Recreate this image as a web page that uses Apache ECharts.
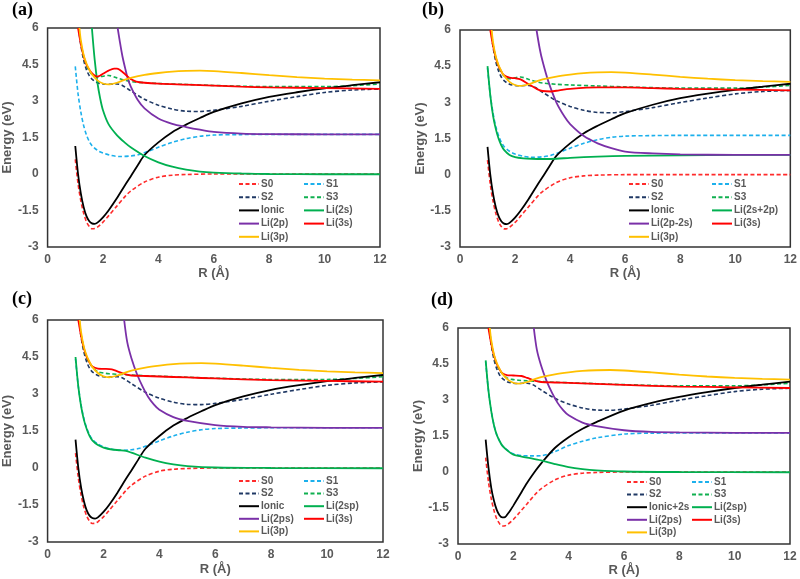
<!DOCTYPE html>
<html><head><meta charset="utf-8">
<script src="https://cdn.jsdelivr.net/npm/echarts@6/dist/echarts.min.js"></script>
<style>html,body{margin:0;padding:0;background:#fff}#c{width:800px;height:579px}</style>
</head><body><div id="c"></div>
<script>
// ---- tick labels ----
const xTicks = [0, 2, 4, 6, 8, 10, 12];
const yTicks = [-3, -1.5, 0, 1.5, 3, 4.5, 6];
const panelTitles = ['(a)', '(b)', '(c)', '(d)'];

// ---- data [R (Å), Energy (eV)] ----
const S0 = [[1.0,0.6],[1.1,-0.4],[1.2,-1.1],[1.3,-1.6],[1.4,-1.95],[1.5,-2.15],[1.6,-2.25],[1.7,-2.24],[1.8,-2.18],[2.0,-1.98],[2.2,-1.72],[2.5,-1.32],[2.8,-0.92],[3.0,-0.7],[3.5,-0.33],[4.0,-0.13],[4.5,-0.05],[5.0,-0.02],[6,0],[8,0],[10,0],[12,0]];
const S1 = [[1.0,4.42],[1.1,3.3],[1.2,2.55],[1.3,2.0],[1.4,1.62],[1.5,1.35],[1.6,1.17],[1.8,0.97],[2.0,0.86],[2.3,0.76],[2.6,0.72],[3.0,0.74],[3.3,0.8],[3.6,0.92],[4.0,1.1],[4.5,1.3],[5.0,1.45],[5.5,1.55],[6,1.6],[7,1.62],[8,1.63],[12,1.63]];
const S1_d = [[1.0,4.6],[1.1,3.4],[1.2,2.55],[1.3,1.95],[1.4,1.55],[1.5,1.3],[1.6,1.1],[1.8,0.9],[2.0,0.76],[2.3,0.68],[2.6,0.67],[3.0,0.68],[3.5,0.85],[4,1.1],[4.5,1.28],[5,1.42],[6,1.58],[7,1.62],[12,1.63]];
const S2 = [[1.12,6],[1.2,5.3],[1.3,4.7],[1.4,4.3],[1.5,4.05],[1.6,3.9],[1.8,3.75],[2.0,3.7],[2.2,3.69],[2.5,3.7],[2.7,3.64],[3.0,3.42],[3.5,3.07],[4.0,2.83],[4.5,2.67],[5.0,2.58],[5.5,2.57],[6,2.62],[7,2.78],[8,2.99],[9,3.18],[10,3.35],[11,3.45],[12,3.49]];
const S3 = [[1.13,6],[1.2,5.4],[1.3,4.8],[1.4,4.45],[1.5,4.25],[1.6,4.1],[1.8,3.98],[2.0,4.02],[2.2,4.05],[2.5,3.95],[2.8,3.85],[3.0,3.8],[3.5,3.75],[4,3.72],[5,3.68],[6,3.64],[8,3.59],[10,3.59],[11,3.63],[12,3.7]];
const S3_cd = [[1.13,6],[1.2,5.4],[1.3,4.8],[1.4,4.45],[1.5,4.25],[1.6,4.1],[1.8,3.9],[2.0,3.85],[2.2,3.82],[2.5,3.8],[3.0,3.77],[3.5,3.74],[4,3.72],[5,3.68],[6,3.64],[8,3.59],[10,3.59],[11,3.63],[12,3.7]];
const Ionic = [[1.0,1.15],[1.1,0.0],[1.2,-0.8],[1.3,-1.35],[1.4,-1.72],[1.5,-1.93],[1.6,-2.03],[1.7,-2.05],[1.8,-2.0],[2.0,-1.78],[2.2,-1.5],[2.5,-1.0],[2.8,-0.45],[3.0,-0.1],[3.25,0.35],[3.5,0.78],[4.0,1.3],[4.5,1.72],[5.0,2.03],[5.5,2.3],[6,2.55],[7,2.9],[8,3.17],[9,3.36],[10,3.52],[11,3.65],[12,3.77]];
const IonicPlus2s = [[1.0,1.35],[1.1,0.2],[1.2,-0.65],[1.3,-1.2],[1.4,-1.58],[1.5,-1.8],[1.6,-1.89],[1.7,-1.88],[1.8,-1.74],[1.9,-1.58],[2.0,-1.4],[2.2,-1.02],[2.5,-0.45],[2.8,0.05],[3.0,0.35],[3.5,1.0],[4,1.45],[4.5,1.8],[5,2.08],[6,2.56],[7,2.88],[8,3.13],[9,3.33],[10,3.5],[11,3.64],[12,3.77]];
const Li2s = [[1.6,6],[1.7,4.7],[1.8,3.75],[1.9,3.1],[2.0,2.62],[2.2,2.05],[2.5,1.6],[2.8,1.28],[3.0,1.1],[3.5,0.74],[4,0.48],[4.5,0.3],[5,0.18],[5.5,0.1],[6,0.06],[7,0.02],[8,0.0],[10,-0.01],[12,-0.01]];
const Li2s2p = [[1.0,4.5],[1.1,3.3],[1.2,2.45],[1.3,1.9],[1.4,1.5],[1.5,1.22],[1.6,1.03],[1.8,0.82],[2.0,0.73],[2.3,0.68],[2.6,0.66],[3.0,0.65],[3.5,0.66],[4,0.7],[5,0.75],[6,0.78],[8,0.8],[10,0.82],[12,0.82]];
const Li2sp_c = [[1.0,4.5],[1.1,3.3],[1.2,2.5],[1.3,1.95],[1.4,1.58],[1.5,1.3],[1.6,1.12],[1.8,0.93],[2.0,0.83],[2.3,0.75],[2.6,0.72],[2.8,0.69],[3.0,0.62],[3.5,0.42],[4,0.26],[4.5,0.15],[5,0.08],[6,0.02],[8,0],[12,-0.01]];
const Li2sp_d = [[1.0,4.65],[1.1,3.4],[1.2,2.55],[1.3,1.95],[1.4,1.55],[1.5,1.3],[1.6,1.1],[1.8,0.88],[2.0,0.72],[2.5,0.6],[3.0,0.48],[3.5,0.33],[4,0.2],[4.5,0.12],[5,0.07],[6,0.02],[8,0],[12,-0.01]];
const Li2p = [[2.53,6],[2.6,5.5],[2.7,4.85],[2.8,4.35],[2.9,3.9],[3.0,3.6],[3.25,3.05],[3.5,2.7],[4,2.28],[4.5,2.06],[5,1.93],[5.5,1.82],[6,1.73],[7,1.66],[8,1.64],[10,1.63],[12,1.63]];
const Li2p2s = [[2.78,6],[2.9,5.2],[3.0,4.7],[3.2,3.9],[3.5,3.0],[3.8,2.4],[4.0,2.1],[4.5,1.6],[5,1.3],[5.5,1.1],[6,0.96],[7,0.88],[8,0.84],[10,0.82],[12,0.82]];
const Li2ps = [[2.74,6],[2.85,5.1],[3.0,4.45],[3.2,3.8],[3.4,3.3],[3.6,2.88],[3.8,2.58],[4,2.36],[4.5,2.06],[5,1.91],[6,1.74],[7,1.67],[8,1.65],[10,1.63],[12,1.63]];
const Li3s_a = [[1.1,6],[1.2,5.35],[1.3,4.85],[1.4,4.5],[1.5,4.3],[1.6,4.15],[1.7,4.05],[1.8,4.0],[1.9,4.05],[2.0,4.12],[2.2,4.25],[2.4,4.33],[2.5,4.33],[2.6,4.28],[2.8,4.1],[3.0,3.9],[3.2,3.8],[3.5,3.75],[4,3.71],[5,3.67],[6,3.63],[7,3.59],[8,3.56],[10,3.53],[12,3.5]];
const Li3s_b = [[1.1,6],[1.2,5.35],[1.3,4.85],[1.4,4.5],[1.5,4.28],[1.6,4.12],[1.8,4.02],[2.0,4.0],[2.2,3.95],[2.5,3.75],[2.8,3.55],[3.0,3.47],[3.3,3.45],[3.6,3.5],[4,3.56],[5,3.62],[6,3.62],[7,3.59],[8,3.56],[10,3.53],[12,3.5]];
const Li3s_cd = [[1.1,6],[1.2,5.35],[1.3,4.85],[1.4,4.5],[1.5,4.28],[1.6,4.12],[1.8,4.03],[2.0,4.02],[2.3,4.0],[2.5,3.92],[2.8,3.8],[3.0,3.75],[3.5,3.73],[4,3.71],[5,3.67],[6,3.63],[8,3.56],[10,3.53],[12,3.5]];
const Li3p = [[1.15,6],[1.2,5.5],[1.3,4.9],[1.4,4.55],[1.5,4.3],[1.6,4.1],[1.8,3.85],[2.0,3.72],[2.2,3.68],[2.5,3.75],[2.8,3.88],[3.0,3.95],[3.5,4.07],[4,4.15],[4.5,4.21],[5,4.24],[5.5,4.25],[6,4.23],[7,4.15],[8,4.06],[9,3.98],[10,3.92],[11,3.88],[12,3.85]];

// ---- styling ----
const COL = {S0:'#ff2b2b', S1:'#1cb0ec', S2:'#1f3864', S3:'#10b050', ion:'#000000', g:'#00b050', p:'#7a30a8', r:'#ff0000', y:'#ffc000'};
const DASH = [4, 2.5];
const TXT = '#595959';

const panels = [
  {grid:{left:42, top:28, width:338, height:219}, yGap:28, xGap:20, title:{left:12, top:1},
   legL:{left:238, top:179, gap:3.2}, legR:{left:303, top:179, gap:3.2},
   series:[['S0',S0,COL.S0,1],['S1',S1,COL.S1,1],['S2',S2,COL.S2,1],['S3',S3,COL.S3,1],
           ['Ionic',Ionic,COL.ion,0],['Li(2s)',Li2s,COL.g,0],['Li(2p)',Li2p,COL.p,0],['Li(3s)',Li3s_a,COL.r,0],['Li(3p)',Li3p,COL.y,0]]},
  {grid:{left:460, top:30, width:334, height:217}, yGap:26, xGap:20, title:{left:422, top:1},
   legL:{left:628, top:179, gap:3.2}, legR:{left:711, top:179, gap:3.2},
   series:[['S0',S0,COL.S0,1],['S1',S1,COL.S1,1],['S2',S2,COL.S2,1],['S3',S3,COL.S3,1],
           ['Ionic',Ionic,COL.ion,0],['Li(2s+2p)',Li2s2p,COL.g,0],['Li(2p-2s)',Li2p2s,COL.p,0],['Li(3s)',Li3s_b,COL.r,0],['Li(3p)',Li3p,COL.y,0]]},
  {grid:{left:42, top:320, width:341, height:222}, yGap:30, xGap:21, title:{left:12, top:290},
   legL:{left:238, top:476, gap:2.6}, legR:{left:303, top:476, gap:2.6},
   series:[['S0',S0,COL.S0,1],['S1',S1,COL.S1,1],['S2',S2,COL.S2,1],['S3',S3_cd,COL.S3,1],
           ['Ionic',Ionic,COL.ion,0],['Li(2sp)',Li2sp_c,COL.g,0],['Li(2ps)',Li2ps,COL.p,0],['Li(3s)',Li3s_cd,COL.r,0],['Li(3p)',Li3p,COL.y,0]]},
  {grid:{left:458, top:328, width:332, height:216}, yGap:28, xGap:20, title:{left:431, top:291},
   legL:{left:626, top:477, gap:2.6}, legR:{left:691, top:477, gap:2.6},
   series:[['S0',S0,COL.S0,1],['S1',S1_d,COL.S1,1],['S2',S2,COL.S2,1],['S3',S3_cd,COL.S3,1],
           ['Ionic+2s',IonicPlus2s,COL.ion,0],['Li(2sp)',Li2sp_d,COL.g,0],['Li(2ps)',Li2ps,COL.p,0],['Li(3s)',Li3s_cd,COL.r,0],['Li(3p)',Li3p,COL.y,0]]}
];

const option = {animation:false, backgroundColor:'#fff', grid:[], xAxis:[], yAxis:[], series:[], legend:[], title:[]};
panels.forEach((P, i) => {
  option.grid.push(Object.assign({show:true, borderColor:'#333', borderWidth:1.5, backgroundColor:'transparent', containLabel:false}, P.grid));
  option.xAxis.push({type:'value', gridIndex:i, min:xTicks[0], max:xTicks[xTicks.length-1], interval:xTicks[1]-xTicks[0],
    name:'R (Å)', nameLocation:'middle', nameGap:P.xGap,
    nameTextStyle:{color:TXT, fontFamily:'Liberation Sans, Arial', fontWeight:'bold', fontSize:13},
    axisLine:{show:false}, axisTick:{show:false}, splitLine:{show:false},
    axisLabel:{color:TXT, fontFamily:'Liberation Sans, Arial', fontWeight:'bold', fontSize:12, margin:7}});
  option.yAxis.push({type:'value', gridIndex:i, min:yTicks[0], max:yTicks[yTicks.length-1], interval:yTicks[1]-yTicks[0],
    name:'Energy (eV)', nameLocation:'middle', nameGap:P.yGap, nameRotate:90,
    nameTextStyle:{color:TXT, fontFamily:'Liberation Sans, Arial', fontWeight:'bold', fontSize:13},
    axisLine:{show:false}, axisTick:{show:false}, splitLine:{show:false},
    axisLabel:{color:TXT, fontFamily:'Liberation Sans, Arial', fontWeight:'bold', fontSize:12, margin:9}});
  option.title.push({text:panelTitles[i], left:P.title.left, top:P.title.top, padding:0,
    textStyle:{fontFamily:'Liberation Serif, Times New Roman', fontWeight:'bold', fontSize:18, color:'#000'}});
  const names = [];
  P.series.forEach(([name, data, color, dashed]) => {
    names.push(name);
    option.series.push({type:'line', name, data, xAxisIndex:i, yAxisIndex:i, showSymbol:false, symbol:'none',
      smooth:0.3, clip:true,
      lineStyle:{color, width:dashed ? 1.6 : 1.8, type: dashed ? DASH : 'solid'}, itemStyle:{color}});
  });
  const leftNames = [names[0], names[2], names[4], names[6], names[8]];
  const rightNames = [names[1], names[3], names[5], names[7]];
  [[leftNames, P.legL], [rightNames, P.legR]].forEach(([d, L]) => {
    option.legend.push({data:d, orient:'vertical', left:L.left, top:L.top, itemGap:L.gap, itemWidth:20, itemHeight:10,
      padding:0, selectedMode:false, itemStyle:{opacity:0},
      textStyle:{color:TXT, fontFamily:'Liberation Sans, Arial', fontWeight:'bold', fontSize:10, padding:[0,0,0,-3]}});
  });
});

const chart = echarts.init(document.getElementById('c'), null, {renderer:'canvas'});
chart.setOption(option);
</script></body></html>
